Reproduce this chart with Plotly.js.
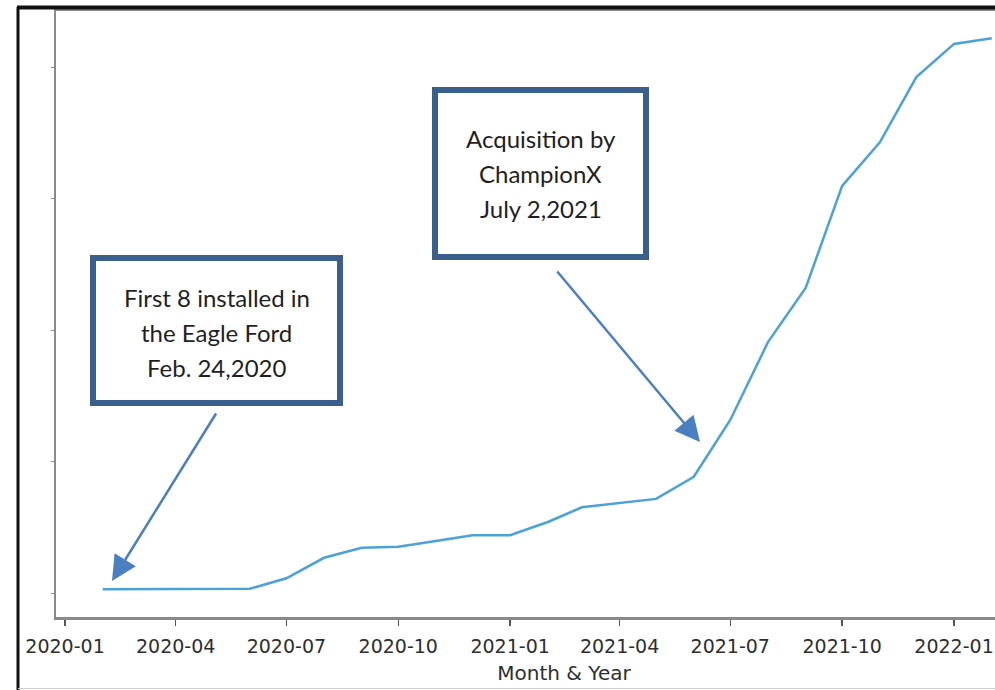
<!DOCTYPE html>
<html>
<head>
<meta charset="utf-8">
<script src="https://cdn.plot.ly/plotly-3.0.1.min.js"></script>
<style>
  html, body { margin: 0; padding: 0; background: #fff; overflow: hidden; width: 995px; height: 690px; }
  #chart { width: 1090px; height: 690px; }
</style>
</head>
<body>
<div id="chart"></div>
<script>
// ---- data (y axis has no labels, values are estimated units) ----
const months = [
  '2020-02-01','2020-03-01','2020-04-01','2020-05-01','2020-06-01','2020-07-01','2020-08-01',
  '2020-09-01','2020-10-01','2020-11-01','2020-12-01',
  '2021-01-01','2021-02-01','2021-03-01','2021-04-01','2021-05-01','2021-06-01','2021-07-01',
  '2021-08-01','2021-09-01','2021-10-01','2021-11-01','2021-12-01',
  '2022-01-01','2022-02-01'
];
const installed = [
  7, 7, 7, 7, 8, 28, 67, 86, 88, 99, 110,
  110, 135, 163, 171, 179, 221, 329, 477, 580, 774, 857, 981,
  1044, 1055
];
const xTickVals = ['2020-01-01','2020-04-01','2020-07-01','2020-10-01','2021-01-01','2021-04-01','2021-07-01','2021-10-01','2022-01-01'];
const xTickText = ['2020-01','2020-04','2020-07','2020-10','2021-01','2021-04','2021-07','2021-10','2022-01'];
const yTickVals = [0, 250, 500, 750, 1000];
const xTitle = 'Month & Year';
const note1 = ['First 8 installed in', 'the Eagle Ford', 'Feb. 24,2020'];
const note2 = ['Acquisition by', 'ChampionX', 'July 2,2021'];

// ---- layout helpers (pixel -> paper) ----
const L = 56, R = 1072, T = 11, B = 617;
const px = p => (p - L) / (R - L);
const py = p => (B - p) / (B - T);

const boxColor = '#3b5f8d';
const arrowColor = '#4a7fc0';
const textFont = { family: 'Lato, "Open Sans", sans-serif', size: 24, color: '#1f1f1f' };

function textLines(lines, cx, ys) {
  return lines.map((t, i) => ({
    xref: 'paper', yref: 'paper', x: px(cx), y: py(ys[i]),
    xanchor: 'center', yanchor: 'middle', text: t, showarrow: false, font: textFont
  }));
}

const annotations = [
  ...textLines(note1, 216.5, [297, 332, 367]),
  ...textLines(note2, 540.5, [138, 173, 208]),
  { xref: 'paper', yref: 'paper', x: px(112), y: py(581), ax: 105, ay: -169,
    text: '', showarrow: true, arrowhead: 2, arrowsize: 2, arrowwidth: 2.5, arrowcolor: arrowColor, standoff: 0 },
  { xref: 'paper', yref: 'paper', x: px(700), y: py(442), ax: -144, ay: -172,
    text: '', showarrow: true, arrowhead: 2, arrowsize: 2, arrowwidth: 2.5, arrowcolor: arrowColor, standoff: 0 }
];

const shapes = [
  // outer frame
  { type: 'line', xref: 'paper', yref: 'paper', x0: px(18), x1: px(18), y0: py(7), y1: py(700), line: { color: '#111', width: 3 } },
  { type: 'line', xref: 'paper', yref: 'paper', x0: px(17), x1: px(1090), y0: py(7.5), y1: py(7.5), line: { color: '#111', width: 4 } },
  { type: 'line', xref: 'paper', yref: 'paper', x0: px(18), x1: px(1090), y0: py(688.5), y1: py(688.5), line: { color: '#cfcfcf', width: 1 } },
  // annotation boxes
  { type: 'rect', xref: 'paper', yref: 'paper', x0: px(93), x1: px(340), y0: py(258), y1: py(403), line: { color: boxColor, width: 6 }, fillcolor: 'rgba(255,255,255,1)' },
  { type: 'rect', xref: 'paper', yref: 'paper', x0: px(435), x1: px(646), y0: py(90), y1: py(257), line: { color: boxColor, width: 6 }, fillcolor: 'rgba(255,255,255,1)' }
];

const trace = {
  x: months, y: installed, type: 'scatter', mode: 'lines',
  line: { color: '#4aa2d6', width: 2.5 }, hoverinfo: 'skip'
};

const layout = {
  width: 1090, height: 690,
  margin: { l: L, r: 1090 - R, t: T, b: 690 - B },
  paper_bgcolor: '#fff', plot_bgcolor: '#fff',
  showlegend: false,
  font: { family: 'DejaVu Sans, sans-serif', color: '#333' },
  xaxis: {
    type: 'date', range: ['2019-12-24 14:00', '2022-04-08'],
    tickvals: xTickVals, ticktext: xTickText,
    ticks: 'outside', ticklen: 6, tickwidth: 1.5, tickcolor: '#555',
    ticklabelstandoff: 5,
    tickfont: { family: 'DejaVu Sans, sans-serif', size: 19, color: '#2e2e2e' },
    showgrid: false, zeroline: false,
    showline: true, linecolor: '#8a8a8a', linewidth: 2.5, mirror: true,
    title: { text: xTitle, font: { family: 'DejaVu Sans, sans-serif', size: 20, color: '#2e2e2e' }, standoff: 10 }
  },
  yaxis: {
    range: [-45.6, 1106.6], tickvals: yTickVals, showticklabels: false,
    ticks: 'outside', ticklen: 3, tickcolor: '#8a8a8a',
    showgrid: false, zeroline: false,
    showline: true, linecolor: '#8a8a8a', linewidth: 2.5
  },
  shapes: shapes,
  annotations: annotations
};

Plotly.newPlot('chart', [trace], layout, { displayModeBar: false, staticPlot: true });
</script>
</body>
</html>
